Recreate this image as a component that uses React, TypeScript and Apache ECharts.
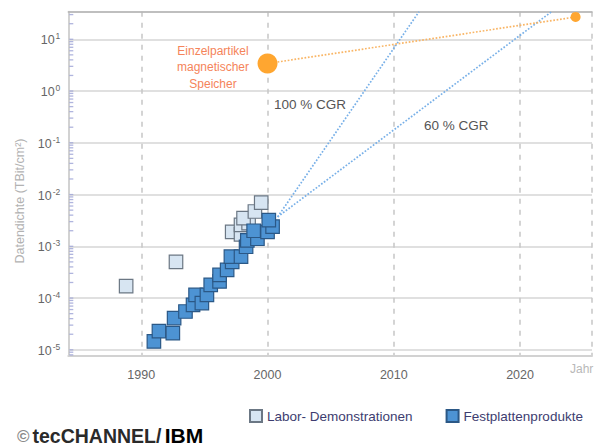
import React, { useEffect, useRef } from "react";
import * as echarts from "echarts";

// ---------- data ----------
const xTickYears = [1990, 2000, 2010, 2020];
const X_MIN = 1984.22;
const X_MAX = 2025.7;
const Y_MIN = 7.7e-6;
const Y_MAX = 34.1;

const labDemoData: [number, number][] = [
  [1988.8, 1.7e-4],
  [1992.75, 5.0e-4],
  [1997.2, 1.9e-3],
  [1997.9, 1.7e-3],
  [1997.9, 2.6e-3],
  [1998.5, 2.8e-3],
  [1998.1, 3.5e-3],
  [1999.0, 4.7e-3],
  [1999.5, 7.0e-3],
];

const hddData: [number, number][] = [
  [1991.0, 1.45e-5],
  [1991.4, 2.3e-5],
  [1992.5, 2.1e-5],
  [1992.6, 4.1e-5],
  [1993.5, 5.5e-5],
  [1994.1, 7.4e-5],
  [1994.3, 1.15e-4],
  [1994.8, 8.0e-5],
  [1995.2, 1.15e-4],
  [1995.5, 1.8e-4],
  [1996.2, 2.1e-4],
  [1996.2, 2.8e-4],
  [1996.8, 3.5e-4],
  [1997.2, 5.0e-4],
  [1997.1, 6.3e-4],
  [1997.9, 6.3e-4],
  [1998.3, 9.8e-4],
  [1998.4, 1.3e-3],
  [1999.2, 1.4e-3],
  [1998.9, 2.0e-3],
  [2000.0, 1.9e-3],
  [2000.4, 2.4e-3],
  [2000.1, 3.2e-3],
];

const cgr100Line: [number, number][] = [
  [2000.8, 3.7e-3],
  [2012.0, 34.1],
];
const cgr60Line: [number, number][] = [
  [2000.8, 3.7e-3],
  [2022.5, 34.1],
];

const singleParticle: [number, number][] = [
  [2000.0, 3.4],
  [2024.4, 27],
];
const singleParticleSizes = [20, 10];

const yMinorMultipliers = [1, 2, 3, 4, 5, 6, 7, 8, 9];
const yDecades = [-6, -5, -4, -3, -2, -1, 0, 1];

const FONT = "'Liberation Sans', Arial, Helvetica, sans-serif";

export default function App() {
  const ref = useRef<HTMLDivElement>(null);

  useEffect(() => {
    if (!ref.current) return;
    const chart = echarts.init(ref.current, undefined, { renderer: "svg" });

    const minorTicks: [number, number][] = [];
    yDecades.forEach((d) =>
      yMinorMultipliers.forEach((m) => {
        const v = m * Math.pow(10, d);
        if (v >= Y_MIN && v <= Y_MAX) minorTicks.push([X_MIN, v]);
      })
    );

    const option: any = {
      animation: false,
      textStyle: { fontFamily: FONT },
      grid: { left: 68.3, right: 0, top: 11.7, bottom: 89.3, containLabel: false },
      xAxis: [
        {
          type: "value",
          min: X_MIN,
          max: X_MAX,
          splitNumber: 4,
          axisLine: { show: true, onZero: false, lineStyle: { color: "#d2d2d2", width: 2 } },
          axisTick: { show: false },
          axisLabel: {
            color: "#666",
            fontSize: 12.5,
            margin: 13,
            fontFamily: FONT,
            formatter: (v: number) => {
              const r = Math.round(v);
              return Math.abs(v - r) < 1e-6 && xTickYears.includes(r) ? String(r) : "";
            },
          },
          splitLine: { show: true, lineStyle: { color: "#c6c6c6", width: 1.5, type: [5, 6] } },
        },
        {
          type: "value",
          position: "top",
          min: X_MIN,
          max: X_MAX,
          axisLine: { show: true, onZero: false, lineStyle: { color: "#b4b4b4", width: 1.5 } },
          axisTick: { show: false },
          axisLabel: { show: false },
          splitLine: { show: false },
        },
      ],
      yAxis: {
        type: "log",
        logBase: 10,
        min: Y_MIN,
        max: Y_MAX,
        axisLine: { show: true, lineStyle: { color: "#d2d2d2", width: 2 } },
        axisTick: { show: false },
        axisLabel: {
          margin: 8,
          formatter: (v: number) => {
            const l = Math.log10(v);
            const r = Math.round(l);
            if (Math.abs(l - r) > 1e-6) return "";
            return `{b|10}{s|${r}}`;
          },
          rich: {
            b: { fontSize: 12.5, color: "#666", fontFamily: FONT, lineHeight: 15, verticalAlign: "bottom" },
            s: { fontSize: 8.5, color: "#666", fontFamily: FONT, lineHeight: 8, verticalAlign: "top", padding: [0, 0, 0, 1] },
          },
        },
        splitLine: { show: true, lineStyle: { color: "#e0e0e0", width: 2 } },
      },
      legend: {
        data: ["Labor- Demonstrationen", "Festplattenprodukte"],
        left: 244,
        top: 404,
        itemWidth: 12,
        itemHeight: 12,
        itemGap: 33,
        icon: "rect",
        selectedMode: false,
        textStyle: { color: "#3d3d70", fontSize: 13.5, fontFamily: FONT },
      },
      series: [
        {
          name: "minorTicks",
          type: "scatter",
          data: minorTicks,
          symbol: "rect",
          symbolSize: [4, 1.3],
          symbolOffset: [3, 0],
          itemStyle: { color: "#9ca3d6" },
          silent: true,
          clip: false,
          z: 3,
        },
        {
          name: "100 % CGR",
          type: "line",
          data: cgr100Line,
          showSymbol: false,
          symbol: "none",
          lineStyle: { color: "#78b0e8", width: 1.7, type: "dotted" },
          silent: true,
          z: 1,
        },
        {
          name: "60 % CGR",
          type: "line",
          data: cgr60Line,
          showSymbol: false,
          symbol: "none",
          lineStyle: { color: "#78b0e8", width: 1.7, type: "dotted" },
          silent: true,
          z: 1,
        },
        {
          name: "Einzelpartikel",
          type: "line",
          data: singleParticle,
          symbol: "circle",
          showSymbol: true,
          symbolSize: (_v: any, p: any) => singleParticleSizes[p.dataIndex],
          itemStyle: { color: "#ffa630", borderWidth: 0 },
          lineStyle: { color: "#f9b565", width: 1.7, type: "dotted" },
          silent: true,
          z: 2,
        },
        {
          name: "Labor- Demonstrationen",
          type: "scatter",
          data: labDemoData,
          symbol: "rect",
          symbolSize: 13.5,
          itemStyle: { color: "#d7e5f2", borderColor: "#6b7784", borderWidth: 1.2, opacity: 1 },
          z: 4,
        },
        {
          name: "Festplattenprodukte",
          type: "scatter",
          data: hddData,
          symbol: "rect",
          symbolSize: 13.5,
          itemStyle: { color: "#4d93d3", borderColor: "#2b5886", borderWidth: 1.2, opacity: 1 },
          z: 5,
        },
      ],
      graphic: [
        {
          type: "text",
          x: 213,
          y: 67,
          silent: true,
          style: {
            text: "Einzelpartikel\nmagnetischer\nSpeicher",
            fill: "#f5845a",
            font: `12px ${FONT}`,
            align: "center",
            verticalAlign: "middle",
            textAlign: "center",
            textVerticalAlign: "middle",
            lineHeight: 16.5,
          },
        },
        {
          type: "text",
          x: 274,
          y: 104,
          silent: true,
          style: {
            text: "100 % CGR",
            fill: "#555",
            font: `13.5px ${FONT}`,
            verticalAlign: "middle",
            textVerticalAlign: "middle",
          },
        },
        {
          type: "text",
          x: 424,
          y: 125,
          silent: true,
          style: {
            text: "60 % CGR",
            fill: "#555",
            font: `13.5px ${FONT}`,
            verticalAlign: "middle",
            textVerticalAlign: "middle",
          },
        },
        {
          type: "text",
          x: 20,
          y: 201,
          rotation: Math.PI / 2,
          silent: true,
          style: {
            text: "Datendichte (TBit/cm²)",
            fill: "#b2b2b2",
            font: `12.5px ${FONT}`,
            align: "center",
            verticalAlign: "middle",
            textAlign: "center",
            textVerticalAlign: "middle",
          },
        },
        {
          type: "text",
          x: 570,
          y: 369,
          silent: true,
          style: {
            text: "Jahr",
            fill: "#b8b8b8",
            font: `12px ${FONT}`,
            verticalAlign: "middle",
            textVerticalAlign: "middle",
          },
        },
        {
          type: "text",
          x: 17,
          y: 435,
          silent: true,
          style: {
            text: "{c|©}{t|tecCHANNEL/} {i|IBM}",
            verticalAlign: "middle",
            textVerticalAlign: "middle",
            rich: {
              c: { fontSize: 17, lineHeight: 17, verticalAlign: "bottom", fontWeight: "bold", fill: "#8a8a8a", fontFamily: FONT, padding: [0, 3, 1, 0] },
              t: { fontSize: 19.5, lineHeight: 19.5, verticalAlign: "bottom", fontWeight: "bold", fill: "#2a2a2a", fontFamily: FONT },
              i: { fontSize: 21, lineHeight: 21, verticalAlign: "bottom", fontWeight: "bold", fill: "#000", fontFamily: FONT },
            },
          },
        },
      ],
    };

    chart.setOption(option);
    return () => chart.dispose();
  }, []);

  return (
    <div
      ref={ref}
      style={{ position: "absolute", left: 0, top: 0, width: 595, height: 445, background: "#fff" }}
    />
  );
}
